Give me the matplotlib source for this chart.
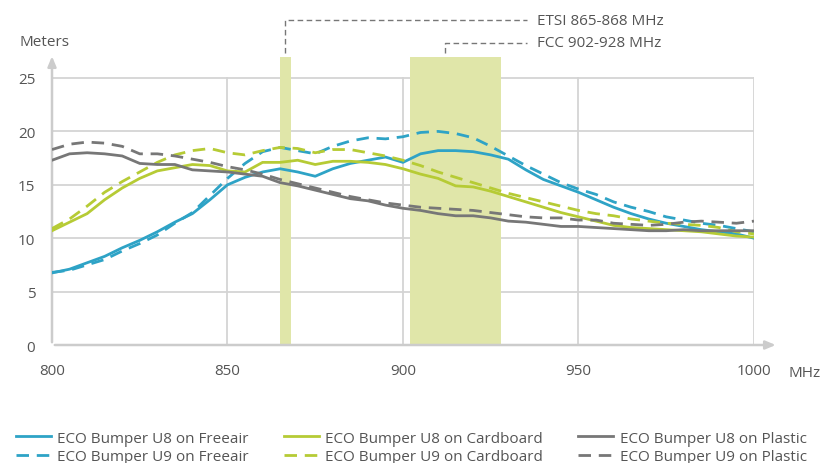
import matplotlib
matplotlib.use("Agg")
import matplotlib.pyplot as plt
import numpy as np

plt.rcParams['font.family'] = ['Open Sans', 'DejaVu Sans']

# frequency steps (MHz)
freq = np.arange(800, 1001, 5)

# read range in meters for each tag / surface
u8_freeair = [6.75, 7.1, 7.7, 8.3, 9.1, 9.8, 10.6, 11.5, 12.3, 13.6, 15.0, 15.7, 16.2, 16.5, 16.2,
              15.8, 16.5, 17.0, 17.3, 17.6, 17.1, 17.9, 18.2, 18.2, 18.1, 17.8, 17.4, 16.4, 15.5, 14.9,
              14.3, 13.6, 12.9, 12.3, 11.8, 11.4, 11.1, 10.8, 10.6, 10.4, 10.0]
u9_freeair = [6.8, 7.0, 7.5, 8.0, 8.8, 9.5, 10.3, 11.4, 12.4, 14.0, 15.6, 17.0, 18.1, 18.5, 18.2,
              17.9, 18.6, 19.1, 19.4, 19.3, 19.5, 19.9, 20.0, 19.8, 19.4, 18.6, 17.7, 16.8, 16.0, 15.2,
              14.6, 14.1, 13.4, 12.9, 12.5, 12.0, 11.7, 11.4, 11.2, 10.9, 10.6]
u8_cardboard = [10.7, 11.5, 12.3, 13.6, 14.7, 15.6, 16.3, 16.6, 16.9, 16.8, 16.3, 16.2, 17.1, 17.1, 17.3,
                16.9, 17.2, 17.2, 17.1, 16.9, 16.5, 16.0, 15.6, 14.9, 14.8, 14.4, 13.9, 13.4, 12.9, 12.4,
                12.0, 11.6, 11.2, 11.0, 10.9, 10.8, 10.7, 10.6, 10.4, 10.2, 10.1]
u9_cardboard = [10.9, 11.8, 13.0, 14.3, 15.3, 16.2, 17.1, 17.8, 18.2, 18.4, 18.0, 17.8, 18.2, 18.5, 18.4,
                18.0, 18.3, 18.3, 18.0, 17.7, 17.3, 16.8, 16.2, 15.7, 15.2, 14.7, 14.2, 13.8, 13.4, 13.0,
                12.6, 12.3, 12.1, 11.8, 11.6, 11.4, 11.3, 11.2, 11.0, 10.6, 10.4]
u8_plastic = [17.3, 17.9, 18.0, 17.9, 17.7, 17.0, 16.9, 16.9, 16.4, 16.3, 16.2, 16.0, 15.8, 15.2, 14.9,
              14.5, 14.1, 13.7, 13.5, 13.1, 12.8, 12.6, 12.3, 12.1, 12.1, 11.9, 11.6, 11.5, 11.3, 11.1,
              11.1, 11.0, 10.9, 10.8, 10.7, 10.7, 10.8, 10.7, 10.7, 10.7, 10.7]
u9_plastic = [18.3, 18.8, 19.0, 18.9, 18.6, 17.9, 17.9, 17.7, 17.4, 17.1, 16.7, 16.4, 16.0, 15.5, 15.1,
              14.7, 14.3, 13.9, 13.6, 13.3, 13.1, 12.9, 12.8, 12.7, 12.6, 12.4, 12.2, 12.0, 11.9, 11.9,
              11.7, 11.7, 11.4, 11.3, 11.2, 11.3, 11.5, 11.6, 11.5, 11.4, 11.6]

x_ticks = [800, 850, 900, 950, 1000]
y_ticks = [0, 5, 10, 15, 20, 25]
etsi_band = (865, 868)
fcc_band = (902, 928)

blue = '#2ea3c6'
green = '#b6cb35'
gray = '#777777'
band_col = '#e0e6a9'
grid_col = '#d4d4d4'
text_col = '#555555'

fig = plt.figure(figsize=(8.28, 4.64), dpi=100)
ax = fig.add_axes([0.0628, 0.2543, 0.8478, 0.633])
ax.set_xlim(800, 1000)
ax.set_ylim(0, 27.5)
for s in ax.spines.values():
    s.set_visible(False)

# grid drawn by hand so it stops at 25
for y in y_ticks[1:]:
    ax.plot([800, 1000], [y, y], color=grid_col, lw=1.3, zorder=1)
for x in x_ticks[1:]:
    ax.plot([x, x], [0, 25], color=grid_col, lw=1.3, zorder=1)

# frequency bands
ax.axvspan(*etsi_band, ymin=0, ymax=27 / 27.5, color=band_col, lw=0, zorder=1.5)
ax.axvspan(*fcc_band, ymin=0, ymax=27 / 27.5, color=band_col, lw=0, zorder=1.5)

# axes with arrows
ax.annotate('', xy=(1007, 0), xytext=(800, 0),
            arrowprops=dict(arrowstyle='-|>,head_length=0.6,head_width=0.25', color='#cccccc', lw=1.8),
            annotation_clip=False, zorder=2)
ax.annotate('', xy=(800, 27.3), xytext=(800, 0),
            arrowprops=dict(arrowstyle='-|>,head_length=0.6,head_width=0.25', color='#cccccc', lw=1.8),
            annotation_clip=False, zorder=2)

lw = 2.0
dash = (0, (4.5, 2.8))
ax.plot(freq, u8_freeair, color=blue, lw=lw, label='ECO Bumper U8 on Freeair', zorder=3)
ax.plot(freq, u9_freeair, color=blue, lw=lw, ls=dash, label='ECO Bumper U9 on Freeair', zorder=3)
ax.plot(freq, u8_cardboard, color=green, lw=lw, label='ECO Bumper U8 on Cardboard', zorder=3)
ax.plot(freq, u9_cardboard, color=green, lw=lw, ls=dash, label='ECO Bumper U9 on Cardboard', zorder=3)
ax.plot(freq, u8_plastic, color=gray, lw=lw, label='ECO Bumper U8 on Plastic', zorder=3)
ax.plot(freq, u9_plastic, color=gray, lw=lw, ls=dash, label='ECO Bumper U9 on Plastic', zorder=3)

ax.set_xticks(x_ticks)
ax.set_yticks(y_ticks)
ax.tick_params(length=0, labelsize=11, labelcolor=text_col, pad=12)
ax.tick_params(axis='x', pad=13)
ax.text(-0.046, 1.035, 'Meters', transform=ax.transAxes, fontsize=11, color=text_col,
        ha='left', va='center')
ax.text(1.049, -0.095, 'MHz', transform=ax.transAxes, fontsize=11, color=text_col,
        ha='left', va='center')

# band annotations with dashed leaders
lead = dict(color='#777777', lw=1.0, ls=(0, (4, 2.5)), clip_on=False)
etsi_x = (etsi_band[0] + etsi_band[1]) / 2
fcc_x = 912
ax.plot([etsi_x, etsi_x, 935.3], [27.3, 30.4, 30.4], **lead)
ax.plot([fcc_x, fcc_x, 935.3], [27.3, 28.3, 28.3], **lead)
ax.text(938.2, 30.4, 'ETSI 865-868 MHz', fontsize=11, color=text_col, va='center', ha='left')
ax.text(938.2, 28.3, 'FCC 902-928 MHz', fontsize=11, color=text_col, va='center', ha='left')

handles, labels = ax.get_legend_handles_labels()
fig.legend(handles, labels, ncol=3, loc='upper left', bbox_to_anchor=(0.012, 0.083),
           frameon=False, fontsize=11, labelcolor=text_col, handlelength=2.3,
           handletextpad=0.4, columnspacing=2.3, labelspacing=0.25, borderaxespad=0)

fig.savefig('out.png', dpi=100)
